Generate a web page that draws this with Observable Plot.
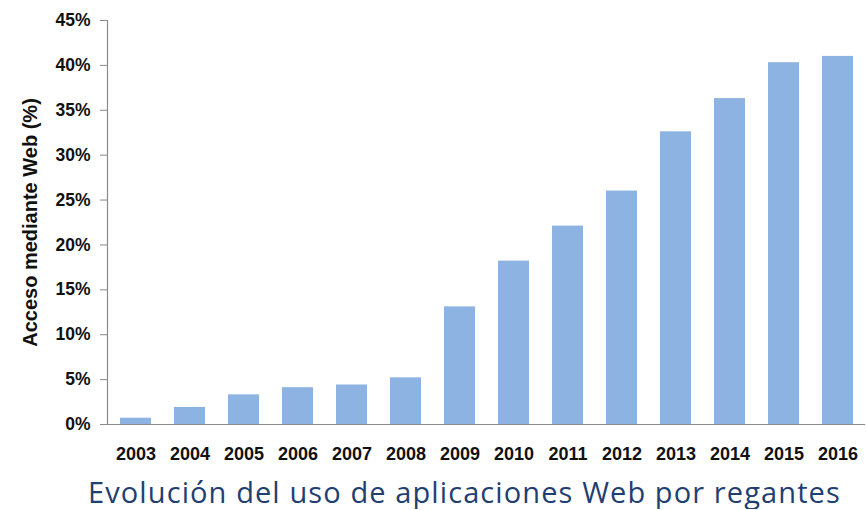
<!DOCTYPE html>
<html>
<head>
<meta charset="utf-8">
<script src="https://cdn.jsdelivr.net/npm/d3@7"></script>
<script src="https://cdn.jsdelivr.net/npm/@observablehq/plot@0.6"></script>
<style>
  body { margin: 0; background: #fff; }
  #chart svg { display: block; }
  #title { font-family: "Open Sans", "Noto Sans", sans-serif; font-size: 29px; letter-spacing: 1.1px; color: #1F3F73; margin: 5px 0 0 0; padding-left: 88px; line-height: 34px; white-space: nowrap; }
</style>
</head>
<body>
<div id="chart"></div>
<div id="title">Evolución del uso de aplicaciones Web por regantes</div>
<script>
const years = ["2003","2004","2005","2006","2007","2008","2009","2010","2011","2012","2013","2014","2015","2016"];
const values = [0.7, 1.9, 3.3, 4.1, 4.4, 5.2, 13.1, 18.2, 22.1, 26.0, 32.6, 36.3, 40.3, 41.0];
const yTicks = [0, 5, 10, 15, 20, 25, 30, 35, 40, 45];

const data = years.map((y, i) => ({year: y, value: values[i]}));

const chart = Plot.plot({
  width: 866,
  height: 470,
  marginLeft: 107,
  marginRight: 1,
  marginTop: 20,
  marginBottom: 46,
  style: { background: "#fff", overflow: "visible" },
  x: { domain: years, paddingInner: 0.43, paddingOuter: 0.21, label: null },
  y: { domain: [0, 45], label: null },
  marks: [
    Plot.barY(data, { x: "year", y: "value", fill: "#8DB3E2" }),
    Plot.ruleY([0], { stroke: "#8a8a8a", strokeWidth: 1.2, insetLeft: -7 }),
    Plot.frame({ anchor: "left", stroke: "#8a8a8a", strokeWidth: 1.2 }),
    Plot.axisY({ ticks: yTicks, tickFormat: d => d + "%", tickSize: 7, tickPadding: 10, stroke: "#8a8a8a", fontSize: 17.5, fontWeight: "bold", fontFamily: "Liberation Sans, Arial, sans-serif", fill: "#111", label: null }),
    Plot.axisX({ tickSize: 0, tickPadding: 23, fontSize: 18, fontWeight: "bold", fontFamily: "Liberation Sans, Arial, sans-serif", fill: "#111", label: null }),
    Plot.text(["Acceso mediante Web (%)"], { frameAnchor: "left", dx: -77, rotate: -90, textAnchor: "middle", fontSize: 20, fontWeight: "bold", fontFamily: "Liberation Sans, Arial, sans-serif", fill: "#111", letterSpacing: 0.3 })
  ]
});
document.getElementById("chart").append(chart);
</script>
</body>
</html>
